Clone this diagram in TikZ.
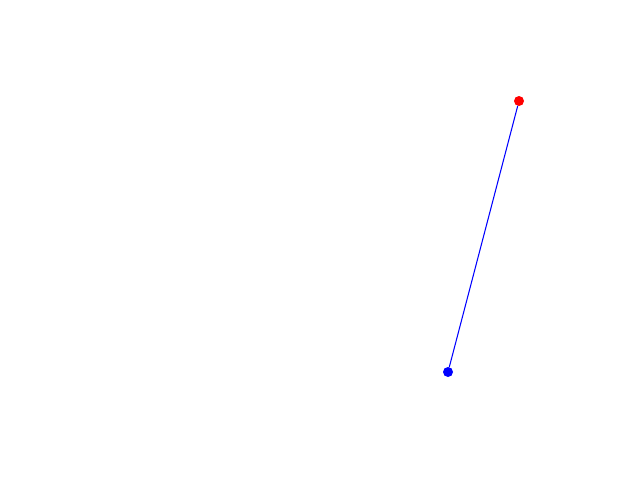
\documentclass[tikz,border=0pt]{standalone}
\usepackage{xcolor}
\usepackage{tikz}
\usetikzlibrary{positioning}

\begin{document}
\begin{tikzpicture}[x=0.02cm, y=-0.02cm]
  \tikzset{
    endDot/.style={circle, draw=none, inner sep=0pt, outer sep=0pt, minimum size=0.2cm},
    segLine/.style={draw=blue, line width=0.6pt}
  }

  % --- Canvas ---
  \useasboundingbox (0,0) rectangle (640,480);

  % --- End points ---
  \node[endDot, fill=red] (topDot) at (519,101) {};
  \node[endDot, fill=blue] (bottomDot) at (448,372) {};

  % --- Segment ---
  \draw[segLine] (bottomDot) -- (topDot);

\end{tikzpicture}
\end{document}
